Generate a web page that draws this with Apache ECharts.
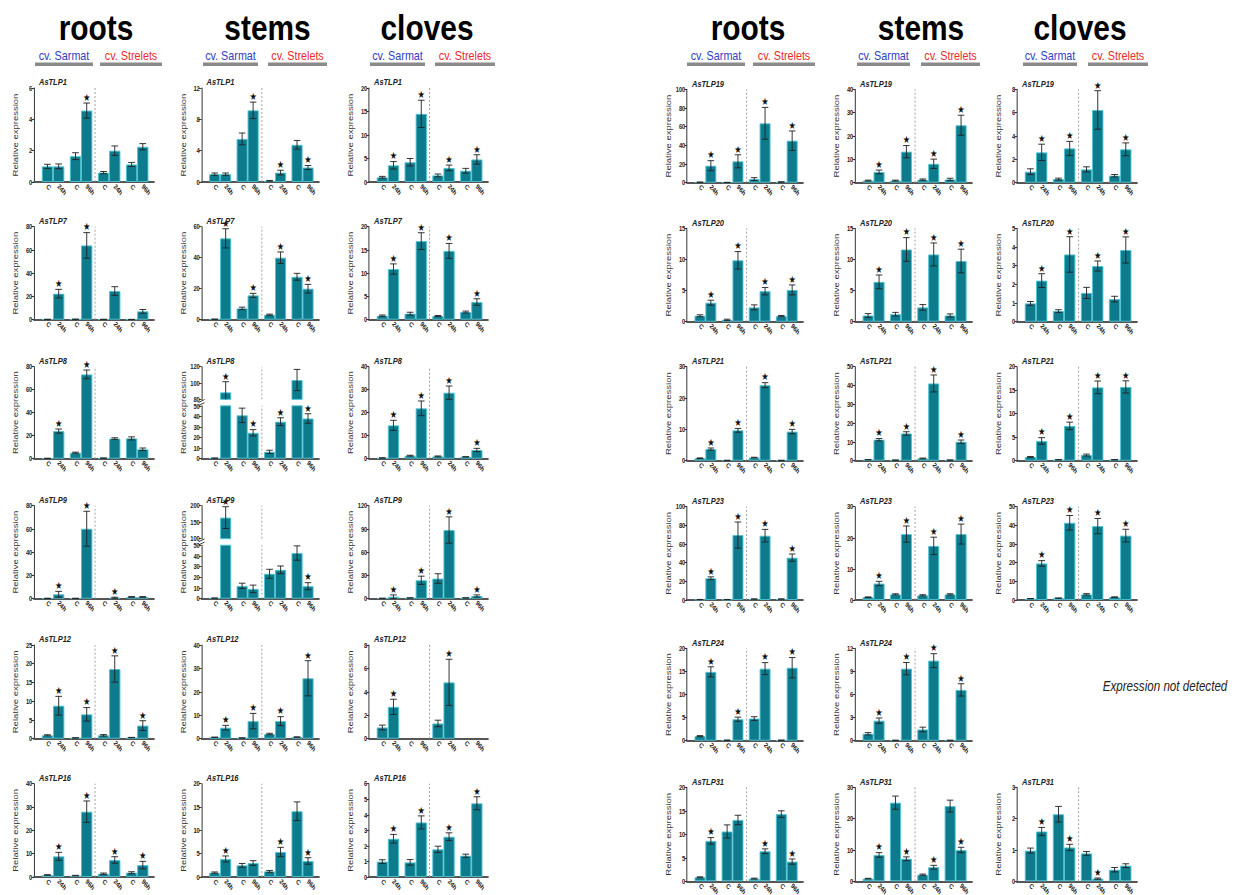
<!DOCTYPE html>
<html>
<head>
<meta charset="utf-8">
<script src="https://cdn.jsdelivr.net/npm/echarts@6/dist/echarts.min.js"></script>
<style>
  html, body { margin: 0; padding: 0; background: #fff; overflow: hidden; }
  /* the source figure is squeezed horizontally, so draw wide and squeeze */
  #chart { width: 1506px; height: 895px; transform: scaleX(0.83); transform-origin: 0 0; }
</style>
</head>
<body>
<div id="chart"></div>
<script>
const categories = ['C', '24h', 'C', '96h', 'C', '24h', 'C', '96h'];
const tissues = ['roots', 'stems', 'cloves'];
const cultivars = ['cv. Sarmat', 'cv. Strelets'];
const genesLeft = ['AsTLP1', 'AsTLP7', 'AsTLP8', 'AsTLP9', 'AsTLP12', 'AsTLP16'];
const genesRight = ['AsTLP19', 'AsTLP20', 'AsTLP21', 'AsTLP23', 'AsTLP24', 'AsTLP31'];
const yName = 'Relative expression';
const notDetected = 'Expression not detected';

// mean, error and starred (significant) bars, order as categories
const AsTLP1_roots  = { mean: [1.0, 1.0, 1.65, 4.56, 0.6, 2.0, 1.12, 2.25], err: [0.13, 0.15, 0.22, 0.48, 0.07, 0.3, 0.13, 0.2], star: [3] };
const AsTLP1_stems  = { mean: [1.0, 1.0, 5.5, 9.15, 0.15, 1.2, 4.75, 1.85], err: [0.15, 0.15, 0.75, 1.05, 0.05, 0.3, 0.55, 0.25], star: [3, 5, 7] };
const AsTLP1_cloves = { mean: [1.0, 3.55, 4.2, 14.5, 1.4, 3.0, 2.4, 4.8], err: [0.2, 0.8, 0.8, 2.9, 0.3, 0.6, 0.5, 1.0], star: [1, 3, 5, 7] };

const AsTLP7_roots  = { mean: [0.3, 22.4, 0.4, 63.9, 0.3, 24.7, 0.2, 7.2], err: [0.1, 3.7, 0.1, 11, 0.1, 3.7, 0.1, 1.6], star: [1, 3] };
const AsTLP7_stems  = { mean: [0.3, 52.5, 7.3, 15.7, 3.2, 40, 27.7, 20], err: [0.1, 6.2, 0.8, 1.3, 0.4, 3.7, 2.2, 2.8], star: [1, 3, 5, 7] };
const AsTLP7_cloves = { mean: [0.86, 10.9, 1.3, 16.9, 0.8, 14.8, 1.65, 3.8], err: [0.15, 1.1, 0.3, 1.8, 0.1, 1.6, 0.2, 0.7], star: [1, 3, 5, 7] };

const AsTLP8_roots  = { mean: [0.3, 24, 5.2, 73.3, 0.5, 17.5, 17.7, 8.2], err: [0.1, 1.8, 0.5, 3.8, 0.1, 0.7, 1.3, 1.1], star: [1, 3] };
const AsTLP8_stems  = { mean: [0.5, 88.6, 41, 24.5, 6.5, 35, 103.7, 38], err: [0.1, 13, 6.8, 3, 1.5, 3.7, 13, 4.5], star: [1, 3, 5, 7] };
const AsTLP8_cloves = { mean: [0.3, 14.5, 1.3, 21.9, 1.0, 28.7, 0.8, 3.8], err: [0.1, 2.2, 0.2, 3.2, 0.2, 2.9, 0.1, 0.7], star: [1, 3, 5, 7] };

const AsTLP9_roots  = { mean: [0.3, 3.8, 0.3, 60.2, null, 0.8, 1.5, 1.5], err: [0.1, 2.5, 0.1, 15, null, 0.5, 0.3, 0.3], star: [1, 3, 5] };
const AsTLP9_stems  = { mean: [0.5, 164, 12, 9.2, 23.3, 27, 42.7, 11.7], err: [0.1, 33, 2.5, 3.5, 4.2, 3.6, 6.7, 3.3], star: [1, 7] };
const AsTLP9_cloves = { mean: [0.5, 2.6, 1.0, 23.8, 26, 88.6, 1.0, 3.5], err: [0.1, 2.3, 0.2, 5.3, 6.2, 17, 0.2, 1.4], star: [1, 3, 5, 7] };

const AsTLP12_roots  = { mean: [0.9, 8.8, 0.2, 6.5, 0.9, 18.6, 0.3, 3.5], err: [0.15, 2.5, 0.05, 1.8, 0.2, 3.5, 0.05, 1.3], star: [1, 3, 5, 7] };
const AsTLP12_stems  = { mean: [0.6, 4.7, 0.3, 7.5, 2.0, 7.5, 0.7, 25.8], err: [0.1, 1.0, 0.1, 3.3, 0.3, 1.9, 0.1, 7.5], star: [1, 3, 5, 7] };
const AsTLP12_cloves = { mean: [0.96, 2.72, null, null, 1.3, 4.81, null, null], err: [0.2, 0.65, null, null, 0.28, 1.97, null, null], star: [1, 5] };

const AsTLP16_roots  = { mean: [0.86, 8.86, 0.6, 28, 1.4, 7.3, 1.86, 5.1], err: [0.15, 1.7, 0.1, 4.6, 0.3, 1.4, 0.4, 1.6], star: [1, 3, 5, 7] };
const AsTLP16_stems  = { mean: [0.93, 3.86, 2.5, 3.0, 1.2, 5.36, 14.1, 3.43], err: [0.15, 0.65, 0.4, 0.5, 0.2, 1.0, 2.0, 0.7], star: [1, 5, 7] };
const AsTLP16_cloves = { mean: [0.99, 2.46, 0.94, 3.51, 1.78, 2.59, 1.37, 4.74], err: [0.12, 0.28, 0.18, 0.42, 0.2, 0.25, 0.1, 0.42], star: [1, 3, 5, 7] };

const AsTLP19_roots  = { mean: [0.5, 18.2, 0.3, 22.9, 3.9, 63.6, 0.7, 45], err: [0.2, 5.4, 0.1, 7, 1.5, 17, 0.3, 10.4], star: [1, 3, 5, 7] };
const AsTLP19_stems  = { mean: [0.9, 4.6, 0.9, 13.3, 1.3, 8.1, 1.4, 24.6], err: [0.2, 0.8, 0.2, 2.6, 0.3, 2, 0.5, 4.3], star: [1, 3, 5, 7] };
const AsTLP19_cloves = { mean: [0.94, 2.6, 0.31, 2.94, 1.14, 6.23, 0.6, 2.86], err: [0.25, 0.7, 0.08, 0.6, 0.22, 1.65, 0.1, 0.55], star: [1, 3, 5, 7] };

const AsTLP20_roots  = { mean: [0.96, 3.05, 0.3, 9.86, 2.3, 4.9, 0.9, 5.1], err: [0.15, 0.4, 0.1, 1.4, 0.4, 0.6, 0.1, 0.8], star: [1, 3, 5, 7] };
const AsTLP20_stems  = { mean: [1.0, 6.4, 1.2, 11.6, 2.3, 10.8, 1.0, 9.75], err: [0.3, 1.1, 0.3, 1.9, 0.45, 1.85, 0.25, 1.9], star: [1, 3, 5, 7] };
const AsTLP20_cloves = { mean: [0.98, 2.2, 0.57, 3.6, 1.54, 2.98, 1.21, 3.84], err: [0.1, 0.37, 0.07, 0.95, 0.3, 0.27, 0.15, 0.7], star: [1, 3, 5, 7] };

const AsTLP21_roots  = { mean: [0.8, 3.7, 0.1, 9.7, 1.0, 24.1, 0.1, 9.3], err: [0.1, 0.35, 0.05, 0.6, 0.1, 0.8, 0.05, 0.7], star: [1, 3, 5, 7] };
const AsTLP21_stems  = { mean: [0.5, 11.2, 0.3, 14.5, 1.2, 41.1, 0.3, 10.1], err: [0.1, 0.6, 0.1, 0.9, 0.2, 4.5, 0.1, 0.9], star: [1, 3, 5, 7] };
const AsTLP21_cloves = { mean: [0.8, 4.2, 0.2, 7.4, 1.2, 15.6, 0.2, 15.7], err: [0.1, 0.7, 0.05, 0.8, 0.2, 1.35, 0.05, 1.3], star: [1, 3, 5, 7] };

const AsTLP23_roots  = { mean: [0.5, 23.3, 0.5, 69.6, 1.0, 68.9, 1.0, 45.4], err: [0.1, 1.5, 0.1, 14, 0.2, 6.8, 0.2, 3.9], star: [1, 3, 5, 7] };
const AsTLP23_stems  = { mean: [0.9, 5.3, 1.8, 21.2, 1.5, 17.4, 1.8, 21.2], err: [0.1, 0.7, 0.2, 2.6, 0.2, 2.8, 0.2, 3.2], star: [1, 3, 5, 7] };
const AsTLP23_cloves = { mean: [0.7, 19.6, 1.0, 41.4, 3.0, 39.6, 1.5, 34.5], err: [0.1, 1.5, 0.1, 3.9, 0.4, 4.1, 0.2, 3.4], star: [1, 3, 5, 7] };

const AsTLP24_roots  = { mean: [1.0, 14.9, 0.1, 4.65, 4.8, 15.6, 0.1, 15.8], err: [0.1, 1.1, 0.05, 0.45, 0.4, 1.3, 0.05, 2.2], star: [1, 3, 5, 7] };
const AsTLP24_stems  = { mean: [0.9, 2.6, 0.05, 9.36, 1.46, 10.4, 0.05, 6.6], err: [0.15, 0.35, 0.02, 0.8, 0.3, 0.9, 0.02, 0.8], star: [1, 3, 5, 7] };

const AsTLP31_roots  = { mean: [0.85, 8.6, 10.6, 13.05, 0.57, 6.4, 14.3, 4.2], err: [0.1, 0.7, 1.4, 1.0, 0.1, 0.5, 0.7, 0.55], star: [1, 5, 7] };
const AsTLP31_stems  = { mean: [0.85, 8.4, 25.1, 7.2, 2.1, 4.5, 24, 10], err: [0.1, 0.75, 2.1, 0.6, 0.2, 0.6, 1.9, 0.85], star: [1, 3, 5, 7] };
const AsTLP31_cloves = { mean: [0.98, 1.59, 2.14, 1.08, 0.89, 0.085, 0.37, 0.5], err: [0.08, 0.13, 0.25, 0.1, 0.06, 0.02, 0.07, 0.06], star: [1, 3, 5] };

// y axis top and tick step per panel; broken axes are [low part, high part]
const leftRows = [
  [[AsTLP1_roots, 6, 2],   [AsTLP1_stems, 12, 4],   [AsTLP1_cloves, 20, 5]],
  [[AsTLP7_roots, 80, 20], [AsTLP7_stems, 60, 20],  [AsTLP7_cloves, 20, 5]],
  [[AsTLP8_roots, 80, 20], [AsTLP8_stems, [50, 10], [80, 120, 20]], [AsTLP8_cloves, 40, 10]],
  [[AsTLP9_roots, 80, 20], [AsTLP9_stems, [50, 10], [100, 200, 50]], [AsTLP9_cloves, 120, 30]],
  [[AsTLP12_roots, 25, 5], [AsTLP12_stems, 40, 10], [AsTLP12_cloves, 8, 2]],
  [[AsTLP16_roots, 40, 10], [AsTLP16_stems, 20, 5], [AsTLP16_cloves, 6, 1]]
];
const rightRows = [
  [[AsTLP19_roots, 100, 20], [AsTLP19_stems, 40, 10], [AsTLP19_cloves, 8, 2]],
  [[AsTLP20_roots, 15, 5],   [AsTLP20_stems, 15, 5],  [AsTLP20_cloves, 5, 1]],
  [[AsTLP21_roots, 30, 10],  [AsTLP21_stems, 50, 10], [AsTLP21_cloves, 20, 5]],
  [[AsTLP23_roots, 100, 20], [AsTLP23_stems, 30, 10], [AsTLP23_cloves, 50, 10]],
  [[AsTLP24_roots, 20, 5],   [AsTLP24_stems, 12, 3],  null],
  [[AsTLP31_roots, 20, 5],   [AsTLP31_stems, 30, 10], [AsTLP31_cloves, 3, 1]]
];

// ---- layout (pixels of the 1250 wide picture) ----
const SX = 0.83;
const X = v => v / SX;
const xPos = [0.5, 1.5, 3, 4, 5.5, 6.5, 8, 9];
const X_MIN = -0.7, X_MAX = 10, DIVIDER = 4.75;
const colLeft = [34, 201.5, 369, 687, 855, 1017];
const colWidth = [120, 117.5, 119, 116, 117, 120];
const rowTop = [[88, 226.7, 366.7, 505.7, 645, 783.7], [89.3, 228.3, 366.7, 506.7, 648.3, 787.3]];
const rowZero = [[182, 319.7, 458.7, 598.7, 738.7, 877], [182.7, 321.7, 460.7, 600, 740.7, 881.3]];
const headX = [96, 267.5, 427, 748, 921, 1080];
const sarmatLine = [[35, 93], [203, 258], [370, 425], [687, 745], [857, 910], [1023, 1077]];
const streletsLine = [[100, 162], [268, 327], [435, 495], [753, 815], [921, 980], [1088, 1148]];

const FONT = '"Liberation Sans", Arial, Helvetica, sans-serif';
const BAR = '#0e7b8d', EDGE = '#4cc4d3';

const grids = [], xAxes = [], yAxes = [], series = [], titles = [], graphic = [];

function addGrid(left, top, width, height) {
  grids.push({ left: X(left), top: top, width: X(width), height: height, containLabel: false, outerBoundsMode: 'none' });
  return grids.length - 1;
}

function xAxisOf(gi, show) {
  return {
    type: 'value', gridIndex: gi, min: X_MIN, max: X_MAX, show: show,
    splitLine: { show: false }, axisTick: { show: false },
    axisLine: { show: true, onZero: false, lineStyle: { color: '#555', width: 2 } },
    axisLabel: {
      customValues: xPos, formatter: v => categories[xPos.indexOf(v)] || '',
      rotate: -45, fontSize: 7, fontWeight: 'bold', color: '#222', margin: 3, fontFamily: FONT
    }
  };
}

function yAxisOf(gi, min, max, step, name) {
  return {
    type: 'value', gridIndex: gi, min: min, max: max, interval: step,
    splitLine: { show: false },
    axisLine: { show: true, onZero: false, lineStyle: { color: '#222', width: 1 } },
    axisTick: { show: true, length: 3, lineStyle: { color: '#222' } },
    axisLabel: { fontSize: 7, fontWeight: 'bold', color: '#222', margin: 2, fontFamily: FONT },
    name: name || '', nameLocation: 'middle', nameGap: 17, nameMoveOverlap: false,
    nameTextStyle: { fontSize: 9.5, color: '#333', fontFamily: FONT }
  };
}

function renderErr(params, api) {
  const x = api.value(0), m = api.value(1), e = api.value(2), s = api.value(3), floor = api.value(4);
  const hi = api.coord([x, m + e]);
  const lo = api.coord([x, Math.max(floor, m - e)]);
  const w = api.size([1, 0])[0] * 0.3;
  const st = { stroke: '#222', lineWidth: 1 };
  const kids = [
    { type: 'line', shape: { x1: hi[0], y1: hi[1], x2: lo[0], y2: lo[1] }, style: st },
    { type: 'line', shape: { x1: hi[0] - w, y1: hi[1], x2: hi[0] + w, y2: hi[1] }, style: st }
  ];
  if (m - e > floor) kids.push({ type: 'line', shape: { x1: lo[0] - w, y1: lo[1], x2: lo[0] + w, y2: lo[1] }, style: st });
  if (s) kids.push({
    type: 'text', x: hi[0], y: hi[1] - 1,
    style: { text: '\u2605', fill: '#111', font: '10px "DejaVu Sans"', align: 'center', verticalAlign: 'bottom', textAlign: 'center', textVerticalAlign: 'bottom' }
  });
  return { type: 'group', children: kids };
}

function barSeries(gi, d) {
  return {
    type: 'bar', xAxisIndex: gi, yAxisIndex: gi, barWidth: '100%', clip: true, silent: true,
    data: xPos.map((x, i) => [x, d.mean[i] == null ? '-' : d.mean[i]]),
    itemStyle: { color: BAR, borderColor: EDGE, borderWidth: 1 },
    markLine: {
      silent: true, symbol: ['none', 'none'], label: { show: false },
      lineStyle: { color: '#9a9a9a', type: [2, 2], width: 1 },
      data: [{ xAxis: DIVIDER }]
    }
  };
}

function errSeries(gi, d, floor, lo, hi) {
  const data = [];
  xPos.forEach((x, i) => {
    const m = d.mean[i];
    if (m == null || m <= lo || m > hi) return;
    data.push([x, m, d.err[i], d.star.includes(i) ? 1 : 0, floor]);
  });
  return { type: 'custom', xAxisIndex: gi, yAxisIndex: gi, data: data, encode: { x: 0, y: 1 }, renderItem: renderErr, z: 3, silent: true };
}

function addPanel(gene, cell, col, row, half) {
  const d = cell[0];
  const top = rowTop[half][row], zero = rowZero[half][row];
  const left = colLeft[col], width = colWidth[col];
  if (!Array.isArray(cell[1])) {
    const gi = addGrid(left, top, width, zero - top);
    xAxes.push(xAxisOf(gi, true));
    yAxes.push(yAxisOf(gi, 0, cell[1], cell[2], yName));
    series.push(barSeries(gi, d), errSeries(gi, d, 0, -1, Infinity));
  } else {
    const low = cell[1], high = cell[2];
    const H = zero - top, upH = H * 0.355, gap = H * 0.07;
    const gu = addGrid(left, top, width, upH);
    xAxes.push(xAxisOf(gu, false));
    yAxes.push(yAxisOf(gu, high[0], high[1], high[2]));
    series.push(barSeries(gu, d), errSeries(gu, d, high[0], low[0], Infinity));
    const gl = addGrid(left, top + upH + gap, width, H - upH - gap);
    xAxes.push(xAxisOf(gl, true));
    yAxes.push(yAxisOf(gl, 0, low[0], low[1]));
    series.push(barSeries(gl, d), errSeries(gl, d, 0, -1, low[0]));
    // axis that only carries the name, centred on the whole panel
    const gn = addGrid(left, top, width, H);
    xAxes.push({ type: 'value', gridIndex: gn, show: false });
    yAxes.push({
      type: 'value', gridIndex: gn, min: 0, max: 1,
      axisLine: { show: false }, axisTick: { show: false }, axisLabel: { show: false }, splitLine: { show: false },
      name: yName, nameLocation: 'middle', nameGap: 17, nameMoveOverlap: false,
      nameTextStyle: { fontSize: 9.5, color: '#333', fontFamily: FONT }
    });
    // small slanted break marks on the axis
    const yb = top + upH + gap / 2;
    [-1.6, 1.6].forEach(dy => graphic.push({
      type: 'line', silent: true,
      shape: { x1: X(left - 3), y1: yb + dy + 1.5, x2: X(left + 3), y2: yb + dy - 1.5 },
      style: { stroke: '#222', lineWidth: 1 }
    }));
  }
  titles.push({
    text: gene, left: X(left + 5), top: top - 10, padding: 0,
    textStyle: { fontSize: 9, fontWeight: 'bold', fontStyle: 'italic', color: '#222', fontFamily: FONT }
  });
}

leftRows.forEach((r, row) => r.forEach((cell, t) => { if (cell) addPanel(genesLeft[row], cell, t, row, 0); }));
rightRows.forEach((r, row) => r.forEach((cell, t) => { if (cell) addPanel(genesRight[row], cell, 3 + t, row, 1); }));

headX.forEach((hx, c) => {
  graphic.push({
    type: 'text', x: X(hx), y: 27, silent: true,
    style: { text: tissues[c % 3], font: 'bold 36px ' + FONT, fill: '#000', align: 'center', verticalAlign: 'middle', textAlign: 'center', textVerticalAlign: 'middle' }
  });
  [sarmatLine[c], streletsLine[c]].forEach((seg, k) => {
    graphic.push({
      type: 'text', x: X((seg[0] + seg[1]) / 2), y: 56, silent: true,
      style: { text: cultivars[k], font: '13px ' + FONT, fill: k ? '#e82a2a' : '#3040c4', align: 'center', verticalAlign: 'middle', textAlign: 'center', textVerticalAlign: 'middle' }
    });
    graphic.push({
      type: 'rect', silent: true, shape: { x: X(seg[0]), y: 62.5, width: X(seg[1] - seg[0]), height: 3.5 },
      style: { fill: '#8a8a8a' }
    });
  });
});
graphic.push({
  type: 'text', x: X(1165), y: 686, silent: true,
  style: { text: notDetected, font: 'italic 14px ' + FONT, fill: '#222', align: 'center', verticalAlign: 'middle', textAlign: 'center', textVerticalAlign: 'middle' }
});

const chart = echarts.init(document.getElementById('chart'), null, { renderer: 'svg' });
chart.setOption({
  animation: false,
  backgroundColor: '#fff',
  textStyle: { fontFamily: FONT },
  title: titles,
  grid: grids,
  xAxis: xAxes,
  yAxis: yAxes,
  series: series,
  graphic: graphic
});
</script>
</body>
</html>
